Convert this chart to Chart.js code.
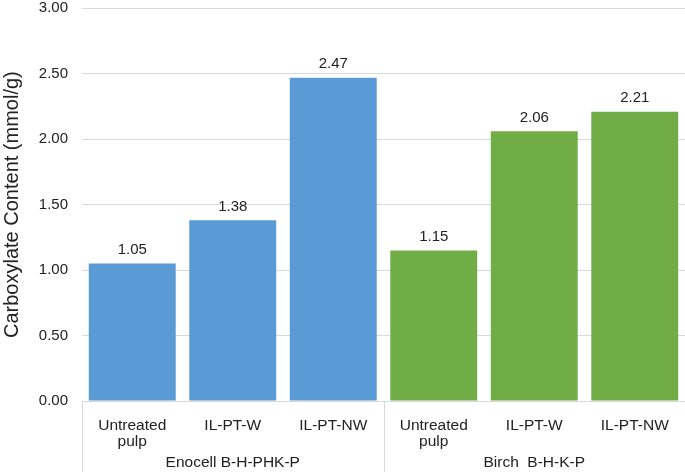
<!DOCTYPE html>
<html>
<head>
<meta charset="utf-8">
<script src="https://cdn.jsdelivr.net/npm/chart.js@4/dist/chart.umd.min.js"></script>
<style>
  html, body { margin: 0; padding: 0; background: #fff; }
</style>
</head>
<body>
<canvas id="carbChart" width="685" height="472"></canvas>
<script>
const categories = [["Untreated", "pulp"], "IL-PT-W", "IL-PT-NW", ["Untreated", "pulp"], "IL-PT-W", "IL-PT-NW"];
const groups = ["Enocell B-H-PHK-P", "Birch  B-H-K-P"];
const values = [1.05, 1.38, 2.47, 1.15, 2.06, 2.21];
const barColors = ["#5b9bd5", "#5b9bd5", "#5b9bd5", "#70ad47", "#70ad47", "#70ad47"];

const FONT = "'Liberation Sans', Arial, sans-serif";

// value labels above each bar
const valueLabels = {
  id: "valueLabels",
  afterDatasetsDraw(chart) {
    const ctx = chart.ctx;
    const meta = chart.getDatasetMeta(0);
    ctx.save();
    ctx.font = "15px " + FONT;
    ctx.fillStyle = "#222";
    ctx.textAlign = "center";
    ctx.textBaseline = "bottom";
    meta.data.forEach((bar, i) => {
      ctx.fillText(values[i].toFixed(2), bar.x, bar.y - 6);
    });
    ctx.restore();
  }
};

// group separators below the axis
const groupLines = {
  id: "groupLines",
  afterDraw(chart) {
    const ctx = chart.ctx;
    const x = chart.scales.x;
    const area = chart.chartArea;
    const mid = (x.getPixelForValue(2) + x.getPixelForValue(3)) / 2;
    ctx.save();
    ctx.strokeStyle = "#d9d9d9";
    ctx.lineWidth = 1;
    [area.left, mid, area.right - 0.5].forEach(px => {
      const p = Math.round(px) + 0.5;
      ctx.beginPath();
      ctx.moveTo(p, area.bottom);
      ctx.lineTo(p, chart.height);
      ctx.stroke();
    });
    ctx.restore();
  }
};

new Chart(document.getElementById("carbChart"), {
  type: "bar",
  data: {
    labels: categories,
    datasets: [{
      data: values,
      backgroundColor: barColors,
      categoryPercentage: 1,
      barPercentage: 0.865
    }]
  },
  options: {
    responsive: false,
    animation: false,
    layout: { padding: 0 },
    plugins: {
      legend: { display: false },
      tooltip: { enabled: false }
    },
    scales: {
      y: {
        min: 0,
        max: 3,
        ticks: {
          stepSize: 0.5,
          color: "#222",
          font: { size: 15, family: FONT, lineHeight: 1.1 },
          padding: 0,
          callback: v => v.toFixed(2)
        },
        grid: { color: "#d9d9d9", drawTicks: true, tickLength: 14, tickColor: "transparent" },
        border: { display: false },
        title: {
          display: true,
          text: "Carboxylate Content (mmol/g)",
          color: "#222",
          font: { size: 20, family: FONT },
          padding: { top: 0, bottom: 0 }
        },
        afterFit(scale) { scale.width = 82; }
      },
      x: {
        grid: { display: false, drawTicks: false },
        border: { display: true, color: "#d9d9d9" },
        ticks: {
          color: "#222",
          font: { size: 15.5, family: FONT, lineHeight: 1.08 },
          padding: 16,
          maxRotation: 0,
          autoSkip: false
        },
        afterFit(scale) { scale.height = 52; }
      },
      x2: {
        type: "category",
        position: "bottom",
        labels: groups,
        offset: true,
        grid: { display: false, drawTicks: false },
        border: { display: false },
        ticks: {
          color: "#222",
          font: { size: 15.5, family: FONT },
          padding: 0,
          maxRotation: 0
        },
        afterFit(scale) { scale.height = 19; }
      }
    }
  },
  plugins: [valueLabels, groupLines]
});
</script>
</body>
</html>
